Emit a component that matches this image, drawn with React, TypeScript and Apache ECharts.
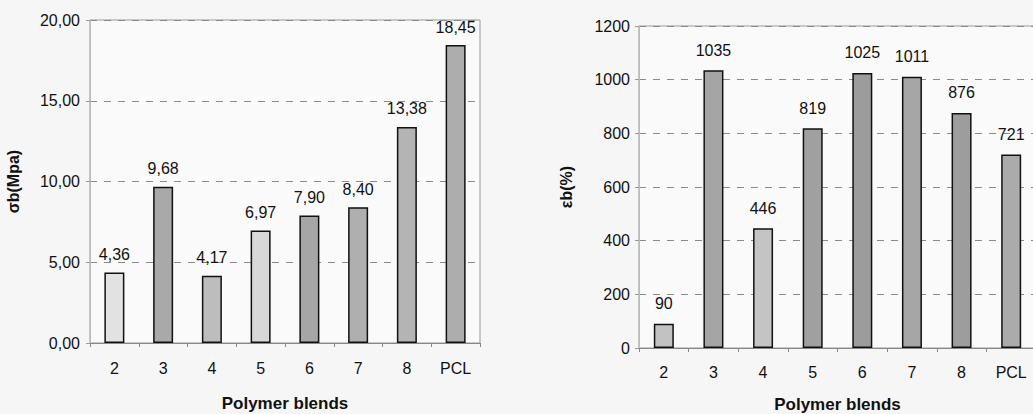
import React, { useEffect, useRef } from "react";
import * as echarts from "echarts";

const categories = ["2", "3", "4", "5", "6", "7", "8", "PCL"];
const stressValues = [4.36, 9.68, 4.17, 6.97, 7.9, 8.4, 13.38, 18.45];
const elongValues = [90, 1035, 446, 819, 1025, 1011, 876, 721];
const stressColors = ["#e2e2e2", "#a9a9a9", "#bdbdbd", "#d8d8d8", "#a6a6a6", "#afafaf", "#b4b4b4", "#adadad"];
const elongColors = ["#c2c2c2", "#a5a5a5", "#c4c4c4", "#a0a0a0", "#9c9c9c", "#a6a6a6", "#9d9d9d", "#ababab"];

const comma2 = (v: number) => v.toFixed(2).replace(".", ",");
const FONT = "Liberation Sans";

export default function App() {
  const ref = useRef<HTMLDivElement>(null);
  useEffect(() => {
    if (!ref.current) return;
    const chart = echarts.init(ref.current, null, { renderer: "svg" });
    const xAxisBase = (gridIndex: number, nameGap: number, margin: number) => ({
      type: "category" as const,
      gridIndex,
      data: categories,
      name: "Polymer blends",
      nameLocation: "middle" as const,
      nameGap,
      nameTextStyle: { fontFamily: FONT, fontWeight: "bold", fontSize: 17, lineHeight: 17, color: "#111" },
      axisLine: { lineStyle: { color: "#888", width: 1 } },
      axisTick: { show: true, length: 4, lineStyle: { color: "#888" } },
      axisLabel: { fontFamily: FONT, fontSize: 16, color: "#111", margin },
    });
    const yAxisBase = (gridIndex: number, name: string, nameGap: number) => ({
      type: "value" as const,
      gridIndex,
      name,
      nameLocation: "middle" as const,
      nameGap,
      nameTextStyle: { fontFamily: FONT, fontWeight: "bold", fontSize: 16, color: "#111" },
      axisLine: { show: true, lineStyle: { color: "#bbb", width: 1 } },
      axisTick: { show: true, length: 4, lineStyle: { color: "#999" } },
      splitLine: { show: true, lineStyle: { color: "#8a8a8a", type: [7, 7] as any, width: 1 } },
    });
    chart.setOption({
      animation: false,
      backgroundColor: "#f6f6f6",
      grid: [
        { left: 90, top: 20, width: 390, height: 323, outerBoundsMode: "none", containLabel: false, show: true, borderColor: "#999", borderWidth: 1, backgroundColor: "#fafafa" },
        { left: 639, top: 26, width: 397, height: 322, outerBoundsMode: "none", containLabel: false, show: true, borderColor: "#999", borderWidth: 1, backgroundColor: "#fafafa" },
      ],
      xAxis: [xAxisBase(0, 52, 17), xAxisBase(1, 48, 16)],
      yAxis: [
        {
          ...yAxisBase(0, "σb(Mpa)", 69),
          min: 0,
          max: 20,
          interval: 5,
          axisLabel: { fontFamily: FONT, fontSize: 16, color: "#111", margin: 10, formatter: (v: number) => comma2(v) },
        },
        {
          ...yAxisBase(1, "εb(%)", 65),
          min: 0,
          max: 1200,
          interval: 200,
          axisLabel: { fontFamily: FONT, fontSize: 16, color: "#111", margin: 9, formatter: (v: number) => String(v) },
        },
      ],
      series: [
        {
          type: "bar",
          xAxisIndex: 0,
          yAxisIndex: 0,
          barWidth: 20,
          data: stressValues.map((v, i) => ({ value: v, itemStyle: { color: stressColors[i] } })),
          itemStyle: { borderColor: "#111", borderWidth: 1.5 },
          label: {
            show: true,
            position: "top",
            distance: 10,
            fontFamily: FONT,
            fontSize: 16,
            color: "#111",
            formatter: (p: any) => comma2(p.value),
          },
        },
        {
          type: "bar",
          xAxisIndex: 1,
          yAxisIndex: 1,
          barWidth: 20,
          data: elongValues.map((v, i) => ({ value: v, itemStyle: { color: elongColors[i] } })),
          itemStyle: { borderColor: "#111", borderWidth: 1.5 },
          label: {
            show: true,
            position: "top",
            distance: 12,
            fontFamily: FONT,
            fontSize: 16,
            color: "#111",
          },
        },
      ],
    });
    return () => chart.dispose();
  }, []);
  return (
    <div
      ref={ref}
      style={{ position: "fixed", left: 0, top: 0, width: 1033, height: 414, background: "#f6f6f6" }}
    />
  );
}
